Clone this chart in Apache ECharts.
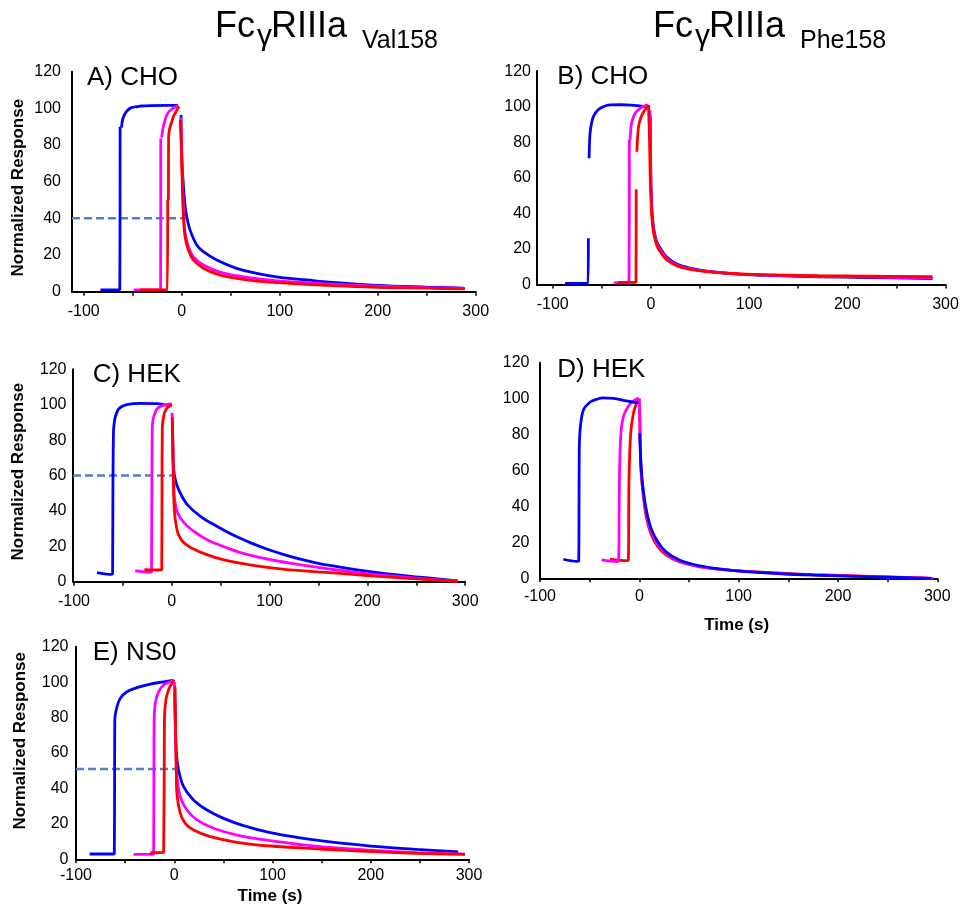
<!DOCTYPE html>
<html>
<head>
<meta charset="utf-8">
<script src="https://cdn.jsdelivr.net/npm/echarts@6/dist/echarts.min.js"></script>
<style>
  html, body { margin: 0; padding: 0; background: #fff; }
  #chart { width: 960px; height: 904px; }
</style>
</head>
<body>
<div id="chart"></div>
<script>
// Sensorgram traces, [time (s), normalized response]. Each trace is a list of
// recorded segments (gaps between segments are left undrawn).

// A) CHO, Val158
const aBlue = [
  [[-83, 1], [-63.2, 1], [-62.9, 90]],
  [[-61.5, 89.5], [-60, 94.6], [-56.5, 98.2], [-51.4, 100.4], [-45, 101], [-41.2, 101.3], [-30, 101.5], [-15, 101.6], [-3.8, 101.6]],
  [[-0.7, 96.4], [0, 74], [1.7, 58], [3.4, 47], [5.1, 40.9], [8.5, 33.6], [15.3, 25.5], [22, 21.8], [35.7, 17.3], [56, 12.7], [76.5, 10], [100, 7.8], [127.5, 6.4], [150, 5.2], [200, 3.4], [250, 2.5], [287.4, 2]]
];
const aMagenta = [
  [[-49, 1], [-21.6, 1], [-21.4, 83.7]],
  [[-20.5, 84], [-19.5, 88], [-18, 91.9], [-15.3, 96.4], [-12.5, 98.5], [-10.2, 99.5], [-6.5, 100.8], [-3.4, 101.5]],
  [[-1, 95], [0, 76], [1.7, 45], [3.4, 32], [6.8, 24.5], [11.9, 19], [22, 14.6], [39, 10.7], [56, 8.7], [76.5, 7.1], [100, 5.8], [127.5, 4.9], [150, 4.2], [200, 3], [250, 2.2], [289, 1.8]]
];
const aRed = [
  [[-42.5, 1], [-14.6, 1], [-14.3, 50]],
  [[-13.6, 50], [-13.4, 84], [-12.5, 88.5], [-10.2, 92.7], [-8.5, 95.5], [-6.8, 97.3], [-4, 100], [-2.5, 101]],
  [[-1.4, 93.7], [-0.5, 80], [0.5, 60], [1.7, 41], [3.4, 30], [6.8, 22.7], [11.9, 17.3], [22, 12.8], [39, 9.1], [56, 7.3], [76.5, 5.8], [100, 4.9], [127.5, 4], [150, 3.5], [200, 2.4], [250, 1.9], [289, 1.5]]
];
const aGuide = [[-112, 40], [5.1, 40]];

// B) CHO, Phe158
const bBlue = [
  [[-87.4, 0.7], [-63.9, 0.7], [-63.7, 26]],
  [[-63, 71], [-62.5, 80], [-62, 85], [-60.5, 90.5], [-58.6, 94.4], [-55, 97.5], [-51.7, 99.1], [-46, 100.5], [-41.5, 101], [-30, 101.1], [-20, 100.9], [-10, 100.3], [-4, 100], [-1, 99.3]],
  [[-0.7, 95], [0, 60], [1, 42], [2.5, 33], [4.4, 27], [6.8, 23], [9.5, 20.5], [16.3, 15.3], [26.5, 11.5], [40, 9.2], [57, 7.5], [91, 5.8], [128.5, 5], [170, 4.4], [220, 4], [286.7, 3.4]]
];
const bMagenta = [
  [[-38, 1], [-22.3, 1], [-22, 81.3]],
  [[-21.2, 81.3], [-20.5, 87], [-19.4, 91.6], [-16, 96.3], [-10.9, 99.1], [-6, 100.5], [-3.4, 101]],
  [[-1, 98], [0, 55], [1, 40], [2.5, 31.5], [4.4, 26], [6.8, 22], [9.5, 19.5], [16.3, 14.5], [26.5, 11], [40, 8.9], [57, 7.4], [91, 5.9], [128.5, 5.2], [170, 4.7], [220, 4.3], [286.7, 3.9]]
];
const bRed = [
  [[-34, 1.3], [-15.2, 1.3], [-15, 53.6]],
  [[-14.3, 74.7], [-13.5, 83], [-12.6, 88.8], [-10.8, 93], [-9.2, 95.3], [-7, 97.5], [-4.8, 99.1], [-2.5, 101]],
  [[-2.5, 101], [-1.4, 81.3], [-0.7, 60], [0, 50], [1, 38.2], [2.5, 30], [4.4, 25], [6.8, 21], [9.5, 18.5], [16.3, 13.8], [26.5, 10.5], [40, 8.6], [57, 7.3], [91, 6], [128.5, 5.4], [170, 5], [220, 4.7], [286.7, 4.4]]
];

// C) HEK, Val158
const cBlue = [
  [[-76.5, 5.1], [-62, 4.1], [-60.5, 4.3], [-60.2, 50], [-59.6, 85], [-58.8, 90], [-57.8, 93], [-56, 95.8], [-54.4, 97.6], [-50, 99.2], [-45.9, 100], [-38, 100.6], [-32.3, 100.8], [-15.3, 100.6], [-5.1, 99.8], [0, 99.4]],
  [[0.5, 91], [1, 80], [1.5, 67], [2.5, 61], [4.8, 55.2], [9.9, 48.7], [16.7, 43], [30.3, 36.5], [47.4, 30.9], [64.4, 25.9], [81.4, 21.8], [98.5, 18.2], [115.5, 15.2], [132.5, 12.6], [149.6, 10.4], [165, 8.9], [199, 6], [233, 3.7], [267, 1.8], [292.5, 0.4]]
];
const cMagenta = [
  [[-37.4, 6.2], [-22, 5.3], [-20.8, 5.5], [-20.4, 50], [-20, 85], [-19.4, 91], [-17, 95.5], [-15.3, 97.5], [-11.9, 99], [-5.1, 100], [0, 100.4]],
  [[0.3, 95.4], [1, 80], [2, 56], [3, 45.8], [6.4, 38.4], [13.3, 32.8], [23.5, 28.1], [37.1, 23.4], [54.2, 19.6], [71.2, 16.3], [98.5, 12.7], [122.3, 10.3], [149.6, 8.1], [165, 6.9], [199, 4.6], [233, 2.8], [267, 1.3], [292.5, 0.3]]
];
const cRed = [
  [[-28, 6.8], [-11, 6.6], [-10.3, 7], [-10, 50], [-9.7, 87], [-7.8, 94.7], [-5.1, 98], [-1.7, 99.4], [0, 100]],
  [[0.5, 93], [1.2, 70], [2, 48], [2.7, 40], [3.7, 34.6], [6.4, 27.2], [11.6, 22.4], [20.1, 19.1], [37.1, 15], [54.2, 12.2], [81.4, 9.4], [115.5, 7], [149.6, 5.6], [165, 5], [199, 3.5], [233, 2.2], [267, 1], [292.5, 0.2]]
];
const cGuide = [[-101, 60], [1.7, 60]];

// D) HEK, Phe158
const dBlue = [
  [[-76.5, 10.6], [-62, 9.4], [-61, 9.6], [-60.7, 40], [-60.5, 69], [-59.7, 82], [-56.4, 93.5], [-49.7, 98], [-42, 99.8], [-36.2, 100.4], [-26.2, 100.2], [-12.8, 98.7], [-1, 97.6]],
  [[0.3, 80.7], [1.7, 63], [3.4, 51.9], [6.7, 39], [11.8, 27.8], [18.5, 20.4], [26.9, 14.8], [40.3, 10.2], [57.1, 7.4], [80.6, 5.2], [107.5, 3.7], [147.7, 2.4], [175, 1.8], [209, 1.2], [242, 0.7], [276, 0.2], [294, 0]]
];
const dMagenta = [
  [[-38, 10.2], [-22, 9.3], [-20.8, 9.5], [-20.1, 51], [-18.8, 78.7], [-16.1, 89.8], [-11.1, 95.7], [-6, 98.7], [-1, 100.4]],
  [[0, 100.2], [0.5, 90], [1.7, 62], [3.4, 50.5], [6.7, 37], [11.8, 26], [18.5, 19], [26.9, 14], [40.3, 9.7], [57.1, 7.1], [80.6, 5.1], [107.5, 3.8], [147.7, 2.5], [175, 1.9], [209, 1.3], [242, 0.8], [276, 0.3], [296, 0]]
];
const dRed = [
  [[-29.5, 10.7], [-12, 9.8], [-11, 10], [-10.4, 54.6], [-8.7, 80.5], [-6, 91.7], [-2.7, 97.6], [0, 100]],
  [[0.3, 94.6], [0.7, 80], [1.7, 60], [3.4, 49], [6.7, 35], [11.8, 24.5], [18.5, 17.8], [26.9, 13], [40.3, 9.2], [57.1, 6.8], [80.6, 5], [107.5, 3.9], [147.7, 2.7], [175, 2.1], [209, 1.5], [242, 0.9], [276, 0.3], [294, 0]]
];

// E) NS0, Val158
const eBlue = [
  [[-86.1, 3], [-61.7, 3], [-61, 3.2], [-60.7, 50], [-60.5, 78.6], [-58.3, 86.1], [-54.9, 90.9], [-48.2, 94.6], [-38, 96.9], [-24.4, 98.9], [-10.8, 100.2], [-0.7, 101]],
  [[0.5, 93.6], [1.2, 75], [2, 61.7], [4.4, 50.4], [9.5, 41], [19.6, 33.5], [33.3, 27.8], [50.2, 23.1], [70.5, 19], [97.7, 15], [124.8, 12.4], [148.5, 10.5], [175, 8.8], [203, 7.3], [247, 5.6], [289, 4.2]]
];
const eMagenta = [
  [[-41.4, 2.8], [-21.7, 2.8], [-21, 3], [-20.7, 50], [-20.5, 78.6], [-19.3, 88], [-15.9, 94.6], [-10.8, 98.4], [-4.1, 100.2], [-0.7, 100.8]],
  [[0.2, 100], [1, 75], [2, 55], [2.7, 46.6], [6.1, 35.3], [12.9, 27.8], [23.1, 22.2], [40, 17.5], [63.8, 13.7], [97.7, 10.5], [131.5, 8.1], [148.5, 7.1], [175, 6], [203, 5], [247, 3.8], [296, 2.9]]
];
const eRed = [
  [[-24.4, 3.7], [-10.8, 3.9], [-10.4, 4.2], [-10.2, 50], [-10, 78.6], [-8.5, 89.9], [-5.8, 95.6], [-2.4, 99.3], [0, 101.2]],
  [[0.8, 97.4], [1.5, 70], [2.2, 45], [2.7, 37.2], [6.1, 26], [11.2, 20.3], [19.6, 16.5], [36.6, 12.8], [63.8, 9.6], [97.7, 7.5], [148.5, 5.8], [175, 5], [203, 4.3], [247, 3.4], [296, 2.8]]
];
const eGuide = [[-100, 51], [1, 51]];

// Axis ticks and labels
const xTickValues = [-100, -50, 0, 50, 100, 150, 200, 250, 300];
const xLabelValues = [-100, 0, 100, 200, 300];
const panelNames = ['A) CHO', 'B) CHO', 'C) HEK', 'D) HEK', 'E) NS0'];
const headerVariants = ['Val158', 'Phe158'];
const yAxisTitle = 'Normalized Response';
const xAxisTitle = 'Time (s)';

const FONT = '"Liberation Sans", Arial, Helvetica, sans-serif';
const BLUE = '#0000ff', MAGENTA = '#ff00ff', RED = '#ff0000', GUIDE = '#4f81bd';

// Panel layout (plot rectangles in px) and per-panel drawing order
const panels = [
  { grid: { left: 72, top: 71.7, width: 403.7, height: 220 }, xMin: -112, yGap: 11, xGap: 12,
    traces: [[aBlue, BLUE], [aMagenta, MAGENTA], [aRed, RED]], guide: aGuide },
  { grid: { left: 537, top: 71.1, width: 408.5, height: 213.5 }, xMin: -116, yGap: 6, xGap: 11.5,
    traces: [[bBlue, BLUE], [bMagenta, MAGENTA], [bRed, RED]], guide: null },
  { grid: { left: 73, top: 369.3, width: 392.2, height: 212.4 }, xMin: -101, yGap: 6.5, xGap: 12,
    traces: [[cBlue, BLUE], [cMagenta, MAGENTA], [cRed, RED]], guide: cGuide },
  { grid: { left: 540, top: 362.7, width: 397.3, height: 215.6 }, xMin: -100, yGap: 10.5, xGap: 10.3,
    traces: [[dRed, RED], [dMagenta, MAGENTA], [dBlue, BLUE]], guide: null },
  { grid: { left: 76, top: 646.7, width: 393, height: 212.6 }, xMin: -100, yGap: 7.5, xGap: 8.7,
    traces: [[eBlue, BLUE], [eMagenta, MAGENTA], [eRed, RED]], guide: eGuide }
];

const grids = [], xAxes = [], yAxes = [], series = [];
panels.forEach((p, i) => {
  grids.push(Object.assign({ containLabel: false, outerBoundsMode: 'none' }, p.grid));
  xAxes.push({
    type: 'value', gridIndex: i, min: p.xMin, max: 300,
    axisLine: { onZero: false, lineStyle: { color: '#000', width: 2 } },
    axisTick: { show: true, customValues: xTickValues, length: 4, lineStyle: { color: '#000', width: 1.5 } },
    axisLabel: { customValues: xLabelValues, color: '#000', fontSize: 16, fontFamily: FONT, margin: p.xGap },
    splitLine: { show: false }
  });
  yAxes.push({
    type: 'value', gridIndex: i, min: 0, max: 120, interval: 20,
    axisLine: { show: true, onZero: false, lineStyle: { color: '#000', width: 2 } },
    axisTick: { show: false },
    axisLabel: { color: '#000', fontSize: 16, fontFamily: FONT, margin: p.yGap },
    splitLine: { show: false }
  });
  if (p.guide) {
    series.push({
      type: 'line', xAxisIndex: i, yAxisIndex: i, data: p.guide, symbol: 'none', silent: true,
      lineStyle: { color: GUIDE, width: 2.5, type: [8, 4] }, z: 2
    });
  }
  p.traces.forEach(([segments, color], k) => {
    segments.forEach(seg => {
      series.push({
        type: 'line', xAxisIndex: i, yAxisIndex: i, data: seg, symbol: 'none', silent: true,
        smooth: 0.35, lineStyle: { color: color, width: 2.8 }, z: 3 + k
      });
    });
  });
});

function label(text, x, y, size, weight, extra) {
  return Object.assign({
    type: 'text', x: x, y: y, silent: true,
    style: {
      text: text, fill: '#000', fontSize: size, fontWeight: weight, fontFamily: FONT,
      align: 'left', verticalAlign: 'middle', textAlign: 'left', textVerticalAlign: 'middle'
    }
  }, extra || {});
}

// "FcγRIIIa" with a lowered gamma and a smaller, lowered variant name
function header(variant, x0) {
  return [
    label('Fc', x0, 27.5, 36, 'normal'),
    label('γ', x0 + 42, 36.5, 30, 'normal'),
    label('RIIIa', x0 + 56, 27.5, 36, 'normal'),
    label(variant, x0 + 147, 41.3, 25, 'normal')
  ];
}

const centered = { align: 'center', textAlign: 'center' };
function axisTitle(text, x, y, rotated) {
  const el = label(text, x, y, 17, 'bold', rotated ? { rotation: Math.PI / 2 } : {});
  Object.assign(el.style, centered);
  return el;
}

const graphics = [].concat(
  header(headerVariants[0], 215),
  header(headerVariants[1], 653),
  [
    label(panelNames[0], 87, 78.2, 26, 'normal'),
    label(panelNames[1], 557.3, 76.6, 26, 'normal'),
    label(panelNames[2], 92.7, 374.9, 26, 'normal'),
    label(panelNames[3], 557.3, 370.2, 26, 'normal'),
    label(panelNames[4], 92.7, 652.6, 26, 'normal'),
    axisTitle(yAxisTitle, 18.8, 187.7, true),
    axisTitle(yAxisTitle, 18.5, 471.7, true),
    axisTitle(yAxisTitle, 20, 740.8, true),
    axisTitle(xAxisTitle, 736.7, 625.7, false),
    axisTitle(xAxisTitle, 270, 896.7, false)
  ]
);

const chart = echarts.init(document.getElementById('chart'), null, { renderer: 'canvas' });
chart.setOption({
  animation: false,
  backgroundColor: '#ffffff',
  grid: grids,
  xAxis: xAxes,
  yAxis: yAxes,
  series: series,
  graphic: graphics
});
</script>
</body>
</html>
